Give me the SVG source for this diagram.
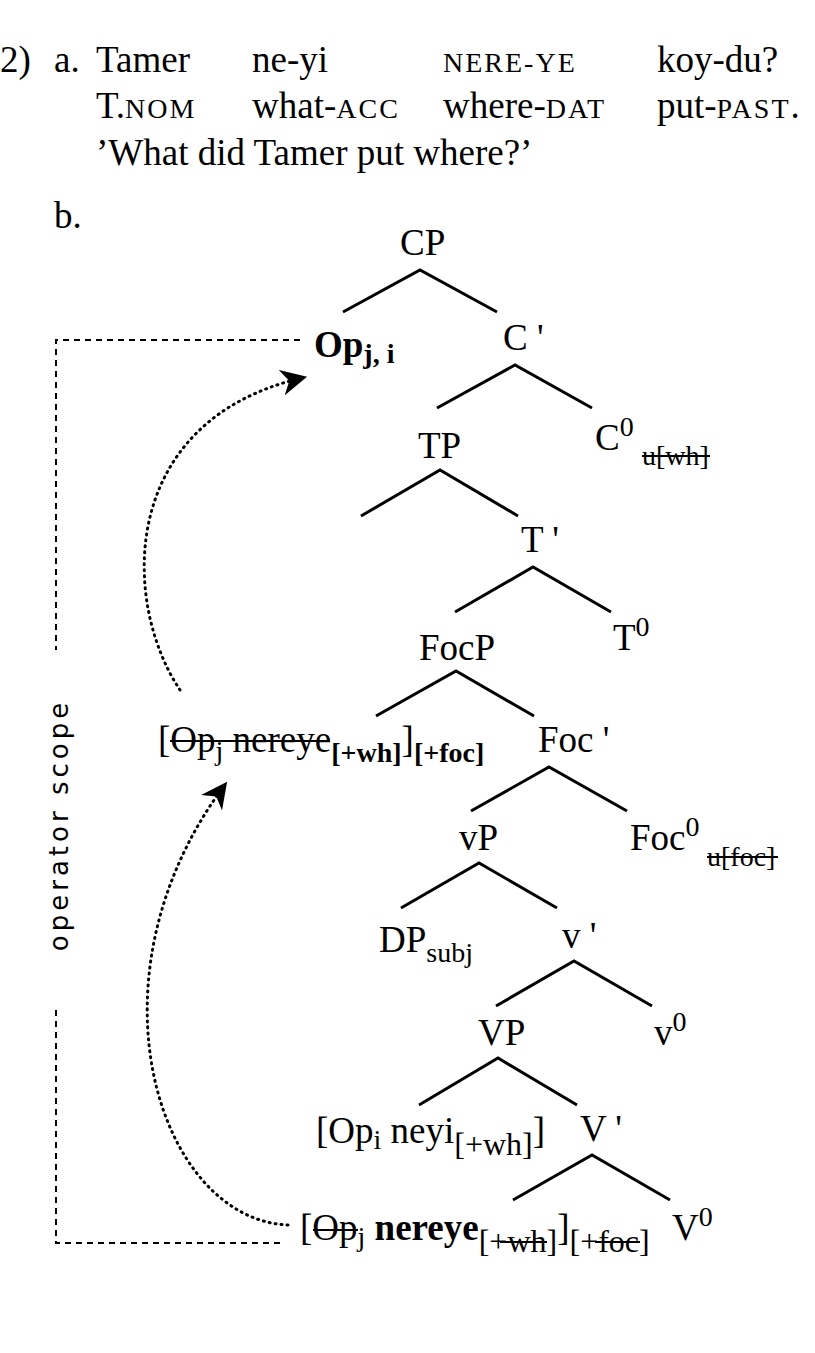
<svg xmlns="http://www.w3.org/2000/svg" width="815" height="1353" viewBox="0 0 815 1353">
<style>
text{font-family:"Liberation Serif","DejaVu Serif",serif;font-size:37px;fill:#000}
.sc{font-size:28px;letter-spacing:2px}
.sub{font-size:28px}
.sub2{font-size:32px}
.b{font-weight:bold}
.e{stroke:#000;stroke-width:3;fill:none}
.d{stroke:#000;stroke-width:2;stroke-dasharray:6,5;fill:none}
.dot{stroke:#000;stroke-width:3;stroke-dasharray:1,5;stroke-linecap:round;fill:none}
.s{stroke:#000;stroke-width:2}
</style>
<defs>
<marker id="ah2" viewBox="0 0 10 10" refX="8" refY="5" markerWidth="26" markerHeight="26" orient="auto" markerUnits="userSpaceOnUse"><path d="M0,0 L10,5 L0,10 L3,5z" fill="#000"/></marker></defs>
<g id="example">
<text x="0" y="72">2)</text><text x="54" y="72">a.</text>
<text x="96" y="72">Tamer</text><text x="252" y="72">ne-yi</text><text x="443" y="72" class="sc">NERE-YE</text><text x="657" y="72">koy-du?</text>
<text x="96" y="118">T.<tspan class="sc">NOM</tspan></text><text x="252" y="118">what-<tspan class="sc">ACC</tspan></text><text x="443" y="118">where-<tspan class="sc">DAT</tspan></text><text x="657" y="118">put-<tspan class="sc">PAST</tspan>.</text>
<text x="96" y="165">’What did Tamer put where?’</text>
<text x="54" y="228">b.</text>
</g>
<g id="edges">
<path class="e" d="M343,312 L420,270 L497,312"/>
<path class="e" d="M437,408 L515,365 L592,408"/>
<path class="e" d="M361,516 L440,470 L518,516"/>
<path class="e" d="M455,612 L533,567 L611,612"/>
<path class="e" d="M376,716 L456,671 L534,716"/>
<path class="e" d="M471,811 L549,767 L627,811"/>
<path class="e" d="M401,908 L479,863 L557,908"/>
<path class="e" d="M496,1006 L574,961 L652,1006"/>
<path class="e" d="M419,1105 L498,1058 L577,1105"/>
<path class="e" d="M513,1200 L592,1155 L670,1200"/>
<path class="d" d="M300,340 H56 V650"/>
<path class="d" d="M56,1010 V1243 H280"/>
<path class="dot" d="M180,690 C120,600 120,420 302,378" marker-end="url(#ah2)"/>
<path class="dot" d="M288,1225 C160,1220 80,980 224,786" marker-end="url(#ah2)"/>
</g>
<text transform="translate(68,825) rotate(-90)" text-anchor="middle" style="font-family:'DejaVu Sans',sans-serif;font-size:26px;letter-spacing:4px">operator  scope</text>
<g id="CP"><text x="400" y="255">CP</text></g>
<g id="Op"><text x="314" y="357" class="b">Op<tspan class="sub" dy="6">j, i</tspan></text></g>
<g id="Cbar"><text x="503" y="350">C '</text></g>
<g id="TP"><text x="418" y="458">TP</text></g>
<g id="C0"><text x="595" y="450">C<tspan class="sub" dy="-14">0</tspan></text><text x="642" y="465" class="sub">u[wh]</text><line class="s" x1="642" y1="456" x2="710" y2="456"/></g>
<g id="Tbar"><text x="521" y="552">T '</text></g>
<g id="T0"><text x="613" y="650">T<tspan class="sub" dy="-14">0</tspan></text></g>
<g id="FocP"><text x="419" y="660">FocP</text></g>
<g id="Fspec"><text x="158" y="752">[Op<tspan class="sub" dy="8">j</tspan><tspan dy="-8"> nereye</tspan><tspan class="b sub" dy="10">[+wh]</tspan><tspan dy="-10">]</tspan><tspan class="b sub" dy="10">[+foc]</tspan></text><line class="s" x1="170" y1="741" x2="330" y2="741"/></g>
<g id="Focbar"><text x="538" y="752">Foc '</text></g>
<g id="vP"><text x="459" y="850">vP</text></g>
<g id="Foc0"><text x="630" y="850">Foc<tspan class="sub" dy="-14">0</tspan></text><text x="707" y="866" class="sub">u[foc]</text><line class="s" x1="707" y1="857" x2="778" y2="857"/></g>
<g id="DP"><text x="379" y="952">DP<tspan class="sub" dy="10">subj</tspan></text></g>
<g id="vbar"><text x="562" y="948">v '</text></g>
<g id="VP"><text x="478" y="1045">VP</text></g>
<g id="v0"><text x="654" y="1045">v<tspan class="sub" dy="-14">0</tspan></text></g>
<g id="Opi"><text x="316" y="1143">[Op<tspan class="sub" dy="6">i</tspan><tspan dy="-6"> neyi</tspan><tspan class="sub2" dy="12">[+wh]</tspan><tspan dy="-12">]</tspan></text></g>
<g id="Vbar"><text x="580" y="1141">V '</text></g>
<g id="Vspec"><text x="300" y="1240">[Op<tspan class="sub" dy="6">j</tspan><tspan class="b" dy="-6"> nereye</tspan><tspan class="sub2" dy="12">[+wh]</tspan><tspan dy="-12">]</tspan><tspan class="sub2" dy="12">[+foc]</tspan></text><line class="s" x1="313" y1="1230" x2="358" y2="1230"/><line class="s" x1="500" y1="1242" x2="547" y2="1242"/><line class="s" x1="595" y1="1242" x2="640" y2="1242"/></g>
<g id="V0"><text x="672" y="1240">V<tspan class="sub" dy="-14">0</tspan></text></g>
</svg>
